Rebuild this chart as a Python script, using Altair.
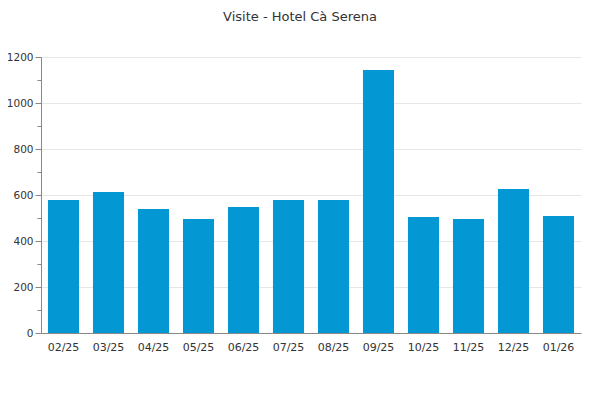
import altair as alt
import pandas as pd

months = ["02/25", "03/25", "04/25", "05/25", "06/25", "07/25", "08/25", "09/25", "10/25", "11/25", "12/25", "01/26"]
visits = [578, 613, 539, 496, 548, 578, 578, 1143, 504, 496, 626, 509]
y_ticks = list(range(0, 1201, 100))

df = pd.DataFrame({"month": months, "visits": visits})

FONT = "DejaVu Sans"

chart = alt.Chart(df).mark_bar(color="#0398d4").encode(
    x=alt.X("month:N", sort=months, title=None,
            scale=alt.Scale(paddingInner=0.31, paddingOuter=0.155),
            axis=alt.Axis(labelAngle=0, ticks=False, domainColor="#888888",
                          labelColor="#333333", labelFont=FONT, labelFontSize=11,
                          labelPadding=8)),
    y=alt.Y("visits:Q", title=None,
            scale=alt.Scale(domain=[0, 1200], nice=False),
            axis=alt.Axis(values=y_ticks, format="d",
                          labelExpr="datum.value % 200 == 0 ? datum.label : ''",
                          tickSize={"condition": {"test": "datum.value % 200 == 0", "value": 6}, "value": 4},
                          gridOpacity={"condition": {"test": "datum.value % 200 == 0", "value": 1}, "value": 0},
                          gridColor="#e6e6e6", tickColor="#888888", domainColor="#888888",
                          labelColor="#333333", labelFont=FONT, labelFontSize=10.5,
                          labelPadding=2)),
).properties(
    width=540, height=276,
    title=alt.TitleParams("Visite - Hotel Cà Serena", font=FONT, fontSize=13,
                          fontWeight="normal", color="#333333", anchor="middle",
                          dx=-11, offset=28),
    autosize=alt.AutoSizeParams(type="none"),
    padding={"left": 33, "top": 49, "right": 10, "bottom": 50},
).configure_view(stroke=None)

chart.save("out.html", embed_options={"renderer": "svg", "actions": False})
